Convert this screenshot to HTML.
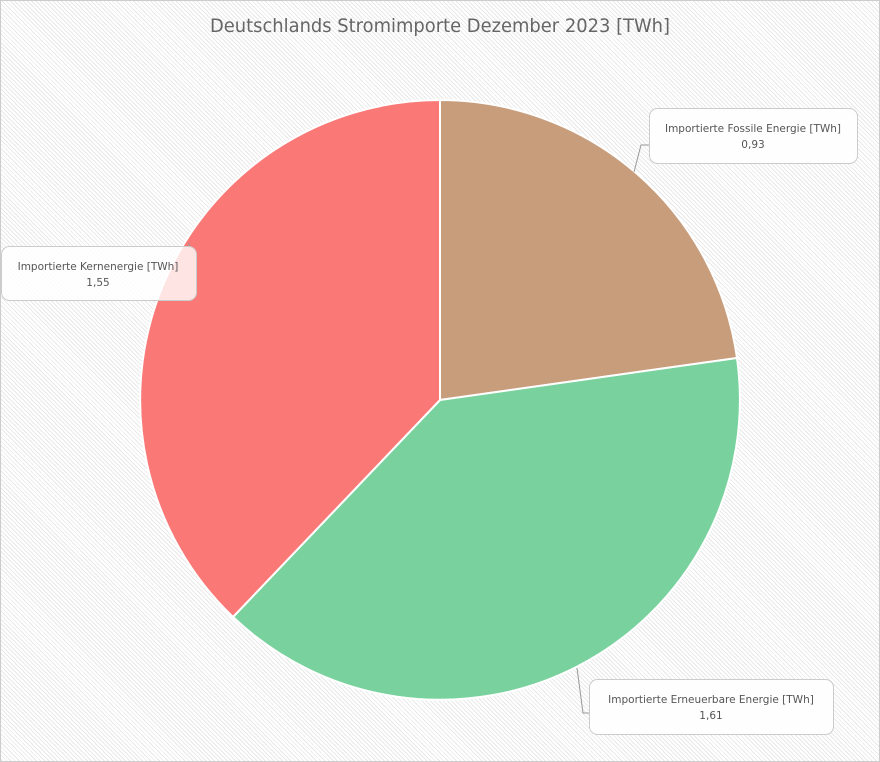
<!DOCTYPE html>
<html><head><meta charset="utf-8"><style>
html,body{margin:0;padding:0}
body{width:880px;height:762px;overflow:hidden;background:repeating-linear-gradient(45deg,#ffffff 0 2px,#e9e9e9 2px 3px);font-family:"Liberation Sans","DejaVu Sans",sans-serif}
</style></head><body>
<svg width="880" height="762" xmlns="http://www.w3.org/2000/svg" style="position:absolute;left:0;top:0">
<rect x="0.5" y="0.5" width="879" height="761" fill="none" stroke="#ccc"/>
<text x="440" y="32" text-anchor="middle" font-size="19" fill="#666" font-family="DejaVu Sans, sans-serif" textLength="460" lengthAdjust="spacingAndGlyphs">Deutschlands Stromimporte Dezember 2023 [TWh]</text>
<g stroke="#fff" stroke-width="2">
<path d="M440,400 L440,100 A300,300 0 0 1 737,358 Z" fill="#c89d7c"/>
<path d="M440,400 L737,358 A300,300 0 0 1 233,617 Z" fill="#79d29e"/>
<path d="M440,400 L233,617 A300,300 0 0 1 440,100 Z" fill="#fa7876"/>
</g>
<g stroke="#999" fill="none" stroke-width="1">
<polyline points="634,172 641,145 649,145"/>
<polyline points="577,668 583,713 589,713"/>
<polyline points="188,243 190,246"/>
</g>
<g font-family="DejaVu Sans, sans-serif" font-size="10.5" fill="#555" text-anchor="middle">
<rect x="649.5" y="108.5" width="208" height="55" rx="8" fill="#fff" fill-opacity="0.9" stroke="#ccc"/>
<text x="753" y="132">Importierte Fossile Energie [TWh]</text>
<text x="753" y="148">0,93</text>
<rect x="1.5" y="246.5" width="195" height="54" rx="8" fill="#fff" fill-opacity="0.8" stroke="#ccc"/>
<text x="98" y="270">Importierte Kernenergie [TWh]</text>
<text x="98" y="286">1,55</text>
<rect x="589.5" y="679.5" width="244" height="55" rx="8" fill="#fff" fill-opacity="0.9" stroke="#ccc"/>
<text x="711" y="703">Importierte Erneuerbare Energie [TWh]</text>
<text x="711" y="719">1,61</text>
</g>
</svg>
</body></html>
